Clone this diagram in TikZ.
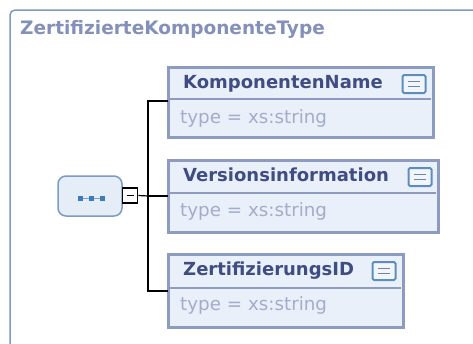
\documentclass[tikz,border=0pt]{standalone}
\usepackage{fontspec}
\setmainfont{DejaVu Sans}
\definecolor{frameC}{HTML}{8796BE}
\definecolor{titleC}{HTML}{8391BA}
\definecolor{boxFill}{HTML}{EAF0FA}
\definecolor{boxBorder}{HTML}{8D9BC0}
\definecolor{nameC}{HTML}{3F4D82}
\definecolor{typeC}{HTML}{A3ACC9}
\definecolor{seqFill}{HTML}{E5EDF7}
\definecolor{seqBorder}{HTML}{7C9BC3}
\definecolor{iconC}{HTML}{5B8DBF}
\definecolor{iconFill}{HTML}{F2F6FC}
\definecolor{dotC}{HTML}{3C7CB8}
\tikzset{
  elbox/.style={draw=boxBorder, line width=3pt, fill=boxFill},
  sepline/.style={draw=boxBorder, line width=1.2pt},
  namelbl/.style={anchor=base west, inner sep=0pt, text=nameC, font=\fontsize{18}{20}\selectfont\bfseries},
  typelbl/.style={anchor=base west, inner sep=0pt, text=typeC, font=\fontsize{18.3}{20}\selectfont},
  docicon/.style={draw=iconC, line width=2pt, fill=iconFill, minimum width=23pt, minimum height=18pt, inner sep=0pt, rounded corners=1.5pt},
  conn/.style={draw=black, line width=1.2pt},
}
\newcommand{\docline}[1]{%
  \draw[iconC!60!gray, line width=1.2pt] ([xshift=-6pt,yshift=2.5pt]#1.center) -- ([xshift=6pt,yshift=2.5pt]#1.center);
  \draw[iconC!60!gray, line width=1.2pt] ([xshift=-6pt,yshift=-2.5pt]#1.center) -- ([xshift=6pt,yshift=-2.5pt]#1.center);}
\begin{document}
\begin{tikzpicture}[x=1pt,y=-1pt]
\useasboundingbox (0,0) rectangle (473,343);
\fill[white] (0,0) rectangle (473,343);
% outer frame
\draw[frameC, line width=1.5pt, rounded corners=5pt] (10,350) -- (10,10) -- (480,10);
\node[anchor=base west, inner sep=0pt, text=titleC, font=\fontsize{18.5}{20}\selectfont\bfseries] (title) at (20,34.5) {ZertifizierteKomponenteType};

% element boxes
\path[elbox] (168,67) rectangle (433,137);
\draw[sepline] (170,99) -- (431,99);
\node[namelbl] (n1) at (183,88.5) {KomponentenName};
\node[typelbl] (t1) at (180,123) {type = xs:string};
\node[docicon] (i1) at (414,84) {};
\docline{i1}
\coordinate (b1) at (168,101);

\path[elbox] (168,160) rectangle (438,232);
\draw[sepline] (170,193) -- (436,193);
\node[namelbl] (n2) at (183,181.5) {Versionsinformation};
\node[typelbl] (t2) at (180,216) {type = xs:string};
\node[docicon] (i2) at (420,177) {};
\docline{i2}
\coordinate (b2) at (168,196);

\path[elbox] (168,254) rectangle (403,327);
\draw[sepline] (170,288) -- (401,288);
\node[namelbl] (n3) at (183,275.5) {ZertifizierungsID};
\node[typelbl] (t3) at (180,310) {type = xs:string};
\node[docicon] (i3) at (384,271) {};
\docline{i3}
\coordinate (b3) at (168,291);

% sequence compositor
\node[draw=seqBorder, line width=1.5pt, fill=seqFill, rounded corners=8pt, minimum width=64pt, minimum height=40pt, inner sep=0pt] (seq) at (90,196) {};
\draw[dotC!70, line width=0.8pt] (80,198) -- (102,198);
\foreach \dx in {80,91,102} \fill[dotC] (\dx-2.5,195.5) rectangle (\dx+2.5,200.5);
\node[draw=black, line width=1.6pt, fill=white, minimum width=15pt, minimum height=15pt, inner sep=0pt] (mb) at (130,195.5) {};
\draw[black, line width=1.4pt] (126.5,195.5) -- (133.5,195.5);
\coordinate (jt) at (148,196);
\coordinate (jtop) at (148,101);
\coordinate (jbot) at (148,291);
\draw[conn] (mb.east) -- (jt);
\draw[conn] (b1) -- (jtop) -- (jbot) -- (b3);
\draw[conn] (jt) -- (b2);
\end{tikzpicture}
\end{document}
